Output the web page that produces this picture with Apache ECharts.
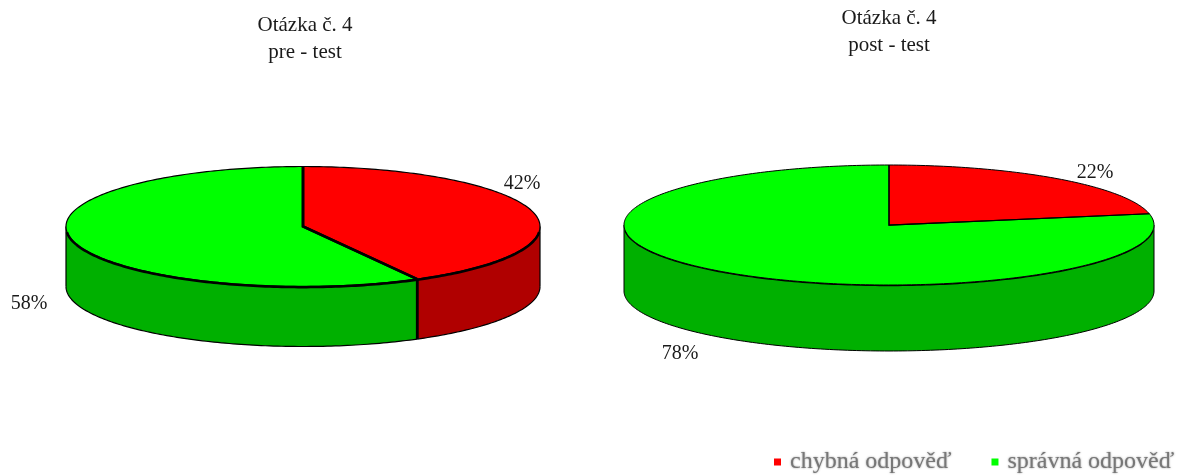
<!DOCTYPE html>
<html>
<head>
<meta charset="utf-8">
<style>html,body{margin:0;padding:0;background:#fff}#chart{width:1184px;height:475px}</style>
<script src="https://cdn.jsdelivr.net/npm/echarts@6/dist/echarts.min.js"></script>
</head>
<body>
<div id="chart"></div>
<script>
// Answer shares for question 4, before and after the course
const categories = ['chybná odpověď', 'správná odpověď'];
const preTest = [42, 58];
const postTest = [22, 78];
const topColors = ['#ff0000', '#00ff00'];
const wallColors = ['#b00000', '#00b000'];

// One entry per tilted pie, in the same order as the value arrays
const pieValues = [preTest, postTest];
const pieTitles = ['Otázka č. 4\npre - test', 'Otázka č. 4\npost - test'];
const pieLayouts = [
  { cx: 303, cy: 226.5, rx: 237, ry: 60, depth: 60, seam: 2.6, rim: 1.2, titleX: 305, titleY: 12 },
  { cx: 889, cy: 225, rx: 265, ry: 60, depth: 66, seam: 1.2, rim: 1, titleX: 889, titleY: 5 }
];
// Label anchors relative to each pie centre, indexed [pie][category]
const labelOffsets = [
  [[219, -43], [-274, 77]],
  [[206, -52], [-209, 129]]
];

const SERIF = '"Liberation Serif", "Times New Roman", serif';

// Point on the ellipse; degrees run clockwise from twelve o'clock
function rimPoint(l, deg, dy) {
  const a = deg * Math.PI / 180;
  return [l.cx + l.rx * Math.sin(a), l.cy - l.ry * Math.cos(a) + (dy || 0)];
}

function arcPoints(l, from, to, dy) {
  const pts = [];
  const n = Math.max(1, Math.ceil(Math.abs(to - from)));
  for (let i = 0; i <= n; i++) pts.push(rimPoint(l, from + (to - from) * i / n, dy));
  return pts;
}

function renderSlice(catIndex) {
  return function (params, api) {
    const pie = params.dataIndex;
    const l = pieLayouts[pie];
    const values = pieValues[pie];
    const total = values.reduce((s, v) => s + v, 0);
    const before = values.slice(0, catIndex).reduce((s, v) => s + v, 0);
    const value = api.value(0);
    const start = before / total * 360;
    const end = (before + value) / total * 360;
    const children = [];

    // Side wall: only the part of the slice facing the viewer (90°–270°)
    const wFrom = Math.max(start, 90);
    const wTo = Math.min(end, 270);
    if (wTo > wFrom) {
      const upper = arcPoints(l, wFrom, wTo, 0);
      const lower = arcPoints(l, wFrom, wTo, l.depth);
      children.push({
        type: 'polygon',
        shape: { points: upper.concat(lower.slice().reverse()) },
        style: { fill: wallColors[catIndex], stroke: null }
      });
      children.push({
        type: 'polyline',
        shape: { points: lower },
        style: { fill: null, stroke: '#000', lineWidth: l.rim }
      });
      [wFrom, wTo].forEach(function (d) {
        const isOuter = d === 90 || d === 270;
        children.push({
          type: 'line',
          shape: {
            x1: rimPoint(l, d, 0)[0], y1: rimPoint(l, d, 0)[1],
            x2: rimPoint(l, d, l.depth)[0], y2: rimPoint(l, d, l.depth)[1]
          },
          style: { stroke: '#000', lineWidth: isOuter ? l.rim : l.seam }
        });
      });
    }

    // Top face with its radial edges and rim
    const rim = arcPoints(l, start, end, 0);
    children.push({
      type: 'polygon',
      shape: { points: [[l.cx, l.cy]].concat(rim) },
      style: { fill: topColors[catIndex], stroke: null }
    });
    children.push({
      type: 'polyline',
      shape: { points: rim },
      style: { fill: null, stroke: '#000', lineWidth: l.rim }
    });
    if (wTo > wFrom) {
      // The front rim sits slightly lower than the face edge, so it does not poke past the sides
      children.push({
        type: 'polyline',
        shape: { points: arcPoints(l, Math.max(wFrom, 95), Math.min(wTo, 265), 0.6) },
        style: { fill: null, stroke: '#000', lineWidth: l.seam }
      });
    }
    return { type: 'group', children: children.concat([
      {
        type: 'polyline',
        shape: { points: [rimPoint(l, start, 0), [l.cx, l.cy], rimPoint(l, end, 0)] },
        style: { fill: null, stroke: '#000', lineWidth: l.seam },
        z2: 5
      },
      {
        type: 'text',
        z2: 6,
        style: {
          text: value + '%',
          x: l.cx + labelOffsets[pie][catIndex][0],
          y: l.cy + labelOffsets[pie][catIndex][1],
          fill: '#1a1a1a',
          font: '20px ' + SERIF,
          textAlign: 'center',
          textVerticalAlign: 'middle'
        }
      }
    ]) };
  };
}

const chart = echarts.init(document.getElementById('chart'), null, { renderer: 'canvas' });
chart.setOption({
  animation: false,
  backgroundColor: '#fff',
  title: pieTitles.map(function (text, i) {
    return {
      text: text,
      left: pieLayouts[i].titleX,
      top: pieLayouts[i].titleY,
      textAlign: 'center',
      padding: 0,
      textStyle: {
        fontFamily: SERIF,
        fontSize: 21,
        fontWeight: 'normal',
        color: '#1a1a1a',
        lineHeight: 27
      }
    };
  }),
  legend: {
    data: categories,
    left: 774,
    top: 450,
    padding: 0,
    itemWidth: 7,
    itemHeight: 7,
    itemGap: 40,
    icon: 'rect',
    selectedMode: false,
    textStyle: {
      fontFamily: SERIF,
      fontSize: 24,
      color: '#777',
      padding: [0, 0, 0, 4],
      textShadowColor: 'rgba(120,120,120,0.8)',
      textShadowBlur: 2
    }
  },
  series: categories.map(function (name, c) {
    return {
      type: 'custom',
      name: name,
      coordinateSystem: 'none',
      silent: true,
      itemStyle: { color: topColors[c] },
      renderItem: renderSlice(c),
      data: pieValues.map(function (vals) { return [vals[c]]; })
    };
  })
});
</script>
</body>
</html>
